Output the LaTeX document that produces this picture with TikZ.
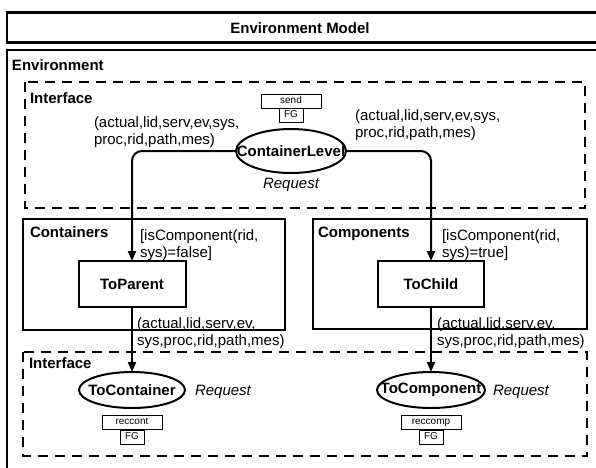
\documentclass[tikz,border=0pt]{standalone}
\usepackage{fontspec}
\setmainfont{Liberation Sans}
\usetikzlibrary{arrows.meta,shapes.geometric}

\begin{document}
\begin{tikzpicture}[x=1pt,y=-1pt,
  every node/.style={inner sep=0pt, outer sep=0pt},
  txt/.style={font=\fontsize{15}{16.5}\selectfont},
  arclabel/.style={txt, align=left, anchor=base west},
  heading/.style={font=\fontsize{15}{16.5}\selectfont\bfseries, anchor=base west},
  region/.style={draw, line width=2pt},
  frame/.style={draw, line width=2.3pt},
  iface/.style={draw, line width=2pt, dash pattern=on 10pt off 7pt},
  place/.style={ellipse, draw, line width=2pt, font=\fontsize{15}{16.5}\selectfont\bfseries},
  trans/.style={rectangle, draw, line width=2pt, minimum width=107pt, minimum height=46pt,
                font=\fontsize{15}{16.5}\selectfont\bfseries},
  tag/.style={rectangle, draw, line width=0.8pt, minimum height=14pt,
              font=\fontsize{10}{11}\selectfont},
  reqlabel/.style={font=\fontsize{15}{16.5}\selectfont\itshape},
  arc/.style={line width=2pt, rounded corners=10pt, -{Triangle[length=10pt,width=8pt]}},
]
\useasboundingbox (0,0) rectangle (596,467);
\clip (0,0) rectangle (596,467);

% outer frames
\draw[frame] (7,12.5) rectangle (620,42.5);
\node[font=\fontsize{15}{16.5}\selectfont\bfseries, anchor=base] (title) at (300,33) {Environment Model};
\draw[frame] (7,50) rectangle (620,490);
\node[heading] (envlbl) at (12,70) {Environment};

% upper interface
\draw[iface] (24.5,82) rectangle (585,208);
\node[heading] (ifup) at (30,103) {Interface};

% containers / components
\draw[region] (23,219) rectangle (285,330);
\node[heading] (contlbl) at (30,237) {Containers};
\draw[region] (313,219) rectangle (587,329);
\node[heading] (complbl) at (318,237) {Components};

% lower interface
\draw[iface] (22.5,352) rectangle (587,456);
\node[heading] (iflow) at (29,368) {Interface};

% places
\node[place, minimum width=110pt, minimum height=44pt] (cl) at (291,151) {\makebox[0pt]{ContainerLevel}};
\node[tag, minimum width=60pt, anchor=north] (send) at (291,94) {\strut send};
\node[tag, minimum width=24pt, anchor=north] (fgsend) at (send.south) {\strut FG};
\node[reqlabel, anchor=base] (reqcl) at (291,188) {Request};

\node[place, minimum width=106pt, minimum height=36pt] (tcont) at (132,390) {\makebox[0pt]{ToContainer}};
\node[reqlabel, anchor=base west] (reqcont) at (195,395) {Request};
\node[tag, minimum width=60pt, anchor=north] (reccont) at (132,415) {\strut reccont};
\node[tag, minimum width=24pt, anchor=north] (fgcont) at ([yshift=-1.5pt]reccont.south) {\strut FG};

\node[place, minimum width=108pt, minimum height=36pt] (tcomp) at (431,390) {\makebox[0pt]{ToComponent}};
\node[reqlabel, anchor=base west] (reqcomp) at (493,395) {Request};
\node[tag, minimum width=60pt, anchor=north] (reccomp) at (431,415) {\strut reccomp};
\node[tag, minimum width=24pt, anchor=north] (fgcomp) at ([yshift=-1.5pt]reccomp.south) {\strut FG};

% transitions
\node[trans] (tp) at (132,284) {ToParent};
\node[trans, minimum width=106pt] (tch) at (431,284) {ToChild};

% arcs
\draw[arc] (cl.west) -| (tp.north);
\draw[arc] (cl.east) -| (tch.north);
\draw[arc] (tp.south) -- (tcont.north);
\draw[arc] (tch.south) -- (tcomp.north);

% arc inscriptions and guards (anchored at the baseline of the last line)
\node[arclabel] (inl) at (94,144) {(actual,lid,serv,ev,sys,\\proc,rid,path,mes)};
\node[arclabel] (inr) at (355,137) {(actual,lid,serv,ev,sys,\\proc,rid,path,mes)};
\node[arclabel] (gl) at (140,257) {[isComponent(rid,\\sys)=false]};
\node[arclabel] (gr) at (442,257) {[isComponent(rid,\\sys)=true]};
\node[arclabel] (outl) at (137,345) {(actual,lid,serv,ev,\\sys,proc,rid,path,mes)};
\node[arclabel] (outr) at (437,345) {(actual,lid,serv,ev,\\sys,proc,rid,path,mes)};
\end{tikzpicture}
\end{document}
